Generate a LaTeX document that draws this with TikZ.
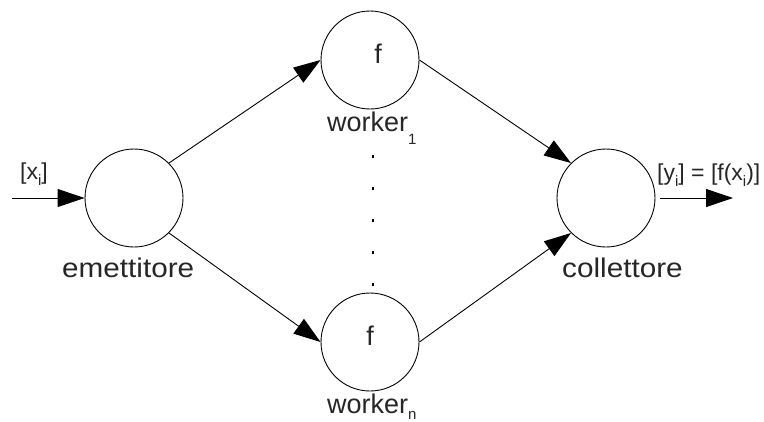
\documentclass[tikz,border=0pt]{standalone}
\usepackage{fontspec}
\setmainfont{Liberation Sans}
\newfontfamily\widefont{Liberation Sans}[FakeStretch=1.1]
\usetikzlibrary{arrows.meta}
\begin{document}
\begin{tikzpicture}[x=1pt,y=-1pt,
  proc/.style={circle,draw,line width=0.9pt,minimum size=98pt,inner sep=0pt},
  lbl/.style={inner sep=0pt,anchor=base west,font=\fontsize{27}{27}\selectfont,text=black!85},
  wlbl/.style={lbl,font=\widefont\fontsize{27}{27}\selectfont},
  io/.style={inner sep=0pt,anchor=base west,font=\fontsize{23}{23}\selectfont,text=black!85},
  conn/.style={line width=0.9pt,-{Triangle[length=27pt,width=18pt]}}]
\useasboundingbox (0,0) rectangle (764,421);
\newcommand{\lsub}[2]{\raisebox{-#1pt}{\fontsize{15}{15}\selectfont #2}}
% circles
\node[proc] (em) at (134,198) {};
\node[proc] (w1) at (370,60) {};
\node[proc] (wn) at (370,342) {};
\node[proc] (col) at (606,198) {};
% inner labels
\node[lbl,anchor=base] (f1) at (378,63) {f};
\node[lbl,anchor=base] (fn) at (370,345) {f};
% captions
\node[wlbl] (lem) at (62,277) {emettitore};
\node[lbl] (lw1) at (327,131) {worker\lsub{13}{1}};
\node[lbl] (lwn) at (327,413) {worker\lsub{6}{n}};
\node[wlbl] (lcol) at (562,277) {collettore};
\node[io] (lx) at (20,179) {[x\lsub{6}{i}]};
\node[io] (ly) at (657,180) {[y\lsub{6}{i}] = [f(x\lsub{6}{i})]};
% dots
\foreach \yy in {156,188,220,252,284}
  \fill (372.3,\yy-1.5) rectangle (373.7,\yy+1.5);
% connectors
\coordinate (in) at (12,198);
\coordinate (out) at (733,198);
\draw[conn] (in) -- (em.west);
\draw[conn] (em.45) -- (w1.west);
\draw[conn] (em.-45) -- (wn.west);
\draw[conn] (w1.east) -- (col.135);
\draw[conn] (wn.east) -- (col.-135);
\draw[conn,shorten <=5pt] (col.east) -- (out);
\end{tikzpicture}
\end{document}
